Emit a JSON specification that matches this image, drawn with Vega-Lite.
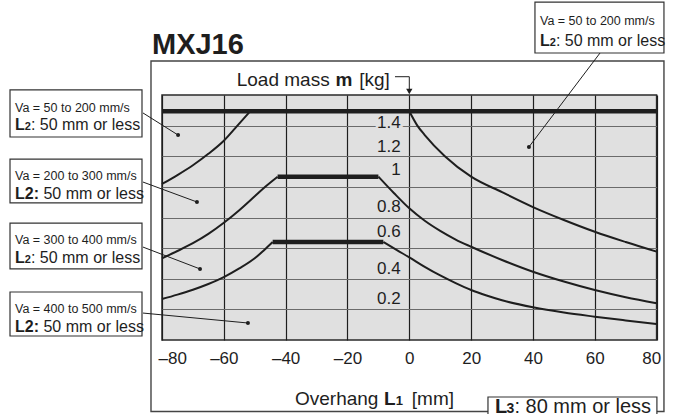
{
  "$schema": "https://vega.github.io/schema/vega-lite/v6.json",
  "width": 494.6,
  "height": 245,
  "autosize": "none",
  "padding": {"left": 162, "top": 95, "right": 17.4, "bottom": 74},
  "background": "white",
  "resolve": {"axis": {"x": "independent", "y": "independent"}},
  "config": {
    "font": "Liberation Sans",
    "view": {"fill": "#e0e0e0", "stroke": "#2a2a2a", "strokeWidth": 1.5},
    "text": {"color": "#1e1e1e", "align": "left", "baseline": "alphabetic"}
  },
  "datasets": {
    "curves": [
      {"part": "A-left", "x": -80, "y": 0.955}, {"part": "A-left", "x": -75, "y": 1.01}, {"part": "A-left", "x": -70, "y": 1.07},
      {"part": "A-left", "x": -65, "y": 1.14}, {"part": "A-left", "x": -60, "y": 1.22}, {"part": "A-left", "x": -55.6, "y": 1.3125},
      {"part": "A-left", "x": -51.5, "y": 1.4},
      {"part": "A-right", "x": 0, "y": 1.4}, {"part": "A-right", "x": 2.6, "y": 1.3125}, {"part": "A-right", "x": 5, "y": 1.255},
      {"part": "A-right", "x": 11.5, "y": 1.125}, {"part": "A-right", "x": 20, "y": 1.0}, {"part": "A-right", "x": 30, "y": 0.905},
      {"part": "A-right", "x": 40, "y": 0.814}, {"part": "A-right", "x": 50, "y": 0.735}, {"part": "A-right", "x": 60, "y": 0.663},
      {"part": "A-right", "x": 70, "y": 0.6}, {"part": "A-right", "x": 80, "y": 0.541},
      {"part": "B-left", "x": -80, "y": 0.5}, {"part": "B-left", "x": -75, "y": 0.545}, {"part": "B-left", "x": -70, "y": 0.593},
      {"part": "B-left", "x": -65, "y": 0.65}, {"part": "B-left", "x": -60, "y": 0.718}, {"part": "B-left", "x": -55, "y": 0.795},
      {"part": "B-left", "x": -50, "y": 0.88}, {"part": "B-left", "x": -46.5, "y": 0.94}, {"part": "B-left", "x": -42.6, "y": 1.0},
      {"part": "B-right", "x": -10, "y": 1.0}, {"part": "B-right", "x": -5, "y": 0.9}, {"part": "B-right", "x": 0, "y": 0.806},
      {"part": "B-right", "x": 5, "y": 0.73}, {"part": "B-right", "x": 10, "y": 0.668}, {"part": "B-right", "x": 15, "y": 0.615},
      {"part": "B-right", "x": 20, "y": 0.571}, {"part": "B-right", "x": 30, "y": 0.49}, {"part": "B-right", "x": 40, "y": 0.418},
      {"part": "B-right", "x": 50, "y": 0.358}, {"part": "B-right", "x": 60, "y": 0.306}, {"part": "B-right", "x": 70, "y": 0.262},
      {"part": "B-right", "x": 80, "y": 0.225},
      {"part": "C-left", "x": -80, "y": 0.251}, {"part": "C-left", "x": -75, "y": 0.278}, {"part": "C-left", "x": -70, "y": 0.308},
      {"part": "C-left", "x": -65, "y": 0.343}, {"part": "C-left", "x": -60, "y": 0.385}, {"part": "C-left", "x": -55, "y": 0.438},
      {"part": "C-left", "x": -50, "y": 0.5}, {"part": "C-left", "x": -47, "y": 0.55}, {"part": "C-left", "x": -44.2, "y": 0.6},
      {"part": "C-right", "x": -8.4, "y": 0.6}, {"part": "C-right", "x": -4, "y": 0.55}, {"part": "C-right", "x": 0, "y": 0.506},
      {"part": "C-right", "x": 5, "y": 0.448}, {"part": "C-right", "x": 10, "y": 0.395}, {"part": "C-right", "x": 15, "y": 0.348},
      {"part": "C-right", "x": 20, "y": 0.306}, {"part": "C-right", "x": 25, "y": 0.272}, {"part": "C-right", "x": 30, "y": 0.243},
      {"part": "C-right", "x": 40, "y": 0.2}, {"part": "C-right", "x": 50, "y": 0.168}, {"part": "C-right", "x": 60, "y": 0.143},
      {"part": "C-right", "x": 70, "y": 0.12}, {"part": "C-right", "x": 80, "y": 0.098}
    ],
    "limits": [
      {"part": "A", "x": -80, "y": 1.4}, {"part": "A", "x": 80, "y": 1.4},
      {"part": "B", "x": -42.6, "y": 1.0}, {"part": "B", "x": -10, "y": 1.0},
      {"part": "C", "x": -44.2, "y": 0.6}, {"part": "C", "x": -8.4, "y": 0.6}
    ],
    "frame": [{"x1": -83.56, "x2": 82.38, "y1": 1.708, "y2": -0.4378}],
    "boxes": [
      {"x1": -129.17, "x2": -86.47, "y1": 1.531, "y2": 1.243},
      {"x1": -129.17, "x2": -86.47, "y1": 1.108, "y2": 0.839},
      {"x1": -129.17, "x2": -86.47, "y1": 0.716, "y2": 0.435},
      {"x1": -129.17, "x2": -86.47, "y1": 0.294, "y2": 0.0245},
      {"x1": 40.65, "x2": 82.38, "y1": 2.069, "y2": 1.757},
      {"x1": 25.45, "x2": 80.1, "y1": -0.349, "y2": -0.49}
    ],
    "leaders": [
      {"x": -86.15, "y": 1.39, "x2": -74.8, "y2": 1.255},
      {"x": -86.15, "y": 0.967, "x2": -68.7, "y2": 0.845},
      {"x": -86.15, "y": 0.569, "x2": -67.7, "y2": 0.435},
      {"x": -86.15, "y": 0.165, "x2": -52.2, "y2": 0.104},
      {"x": 61.7, "y": 1.757, "x2": 38.7, "y2": 1.182},
      {"x": -4.63, "y": 1.612, "x2": 0, "y2": 1.612},
      {"x": 0, "y": 1.612, "x2": 0, "y2": 1.515}
    ],
    "dots": [
      {"x": -74.8, "y": 1.255}, {"x": -68.7, "y": 0.845}, {"x": -67.7, "y": 0.435},
      {"x": -52.2, "y": 0.104}, {"x": 38.7, "y": 1.182}
    ],
    "arrow": [{"x": 0, "y": 1.522}],
    "ticks": [
      {"t": "1.4", "x": -2.8, "y": 1.329}, {"t": "1.2", "x": -2.8, "y": 1.184}, {"t": "1", "x": -2.8, "y": 1.041},
      {"t": "0.8", "x": -2.8, "y": 0.814}, {"t": "0.6", "x": -2.8, "y": 0.661}, {"t": "0.4", "x": -2.8, "y": 0.435},
      {"t": "0.2", "x": -2.8, "y": 0.251}
    ],
    "texts": [
      {"t": "MXJ16", "x": -83.24, "y": 1.751, "role": "heading"},
      {"t": "Load mass", "x": -55.84, "y": 1.555, "role": "title"},
      {"t": "m", "x": -23.9, "y": 1.555, "role": "titleB"},
      {"t": "[kg]", "x": -16.2, "y": 1.555, "role": "title"},
      {"t": "Overhang", "x": -36.98, "y": -0.398, "role": "title"},
      {"t": "L", "x": -8.19, "y": -0.398, "role": "titleB"},
      {"t": "1", "x": -4.37, "y": -0.398, "role": "titleSub"},
      {"t": "[mm]", "x": 0.8, "y": -0.398, "role": "title"},
      {"t": "L", "x": 27.71, "y": -0.445, "role": "l3B"},
      {"t": "3", "x": 31.47, "y": -0.445, "role": "l3Sub"},
      {"t": ": 80 mm or less", "x": 34.0, "y": -0.445, "role": "l3"},
      {"t": "Va = 50 to 200 mm/s", "x": -127.55, "y": 1.398, "role": "va"},
      {"t": "L", "x": -127.55, "y": 1.286, "role": "noteB"},
      {"t": "2", "x": -124.38, "y": 1.286, "role": "noteSub"},
      {"t": ": 50 mm or less", "x": -122.41, "y": 1.286, "role": "note"},
      {"t": "Va = 200 to 300 mm/s", "x": -127.55, "y": 0.98, "role": "va"},
      {"t": "L2:", "x": -127.55, "y": 0.863, "role": "noteB"},
      {"t": "50 mm or less", "x": -118.36, "y": 0.863, "role": "note"},
      {"t": "Va = 300 to 400 mm/s", "x": -127.55, "y": 0.588, "role": "va"},
      {"t": "L", "x": -127.55, "y": 0.471, "role": "noteB"},
      {"t": "2", "x": -124.38, "y": 0.471, "role": "noteSub"},
      {"t": ": 50 mm or less", "x": -122.41, "y": 0.471, "role": "note"},
      {"t": "Va = 400 to 500 mm/s", "x": -127.55, "y": 0.165, "role": "va"},
      {"t": "L2:", "x": -127.55, "y": 0.049, "role": "noteB"},
      {"t": "50 mm or less", "x": -118.36, "y": 0.049, "role": "note"},
      {"t": "Va = 50 to 200 mm/s", "x": 42.28, "y": 1.929, "role": "va"},
      {"t": "L", "x": 42.28, "y": 1.802, "role": "noteB"},
      {"t": "2", "x": 45.45, "y": 1.802, "role": "noteSub"},
      {"t": ": 50 mm or less", "x": 47.42, "y": 1.802, "role": "note"}
    ]
  },
  "layer": [
    {
      "data": {"name": "frame"},
      "mark": {"type": "rect", "fill": "white", "fillOpacity": 0, "stroke": "#444", "strokeWidth": 1.4},
      "encoding": {
        "x": {
          "field": "x1", "type": "quantitative",
          "scale": {"domain": [-80, 80], "nice": false, "zero": false},
          "axis": {
            "values": [-80, -60, -40, -20, 0, 20, 40, 60, 80],
            "grid": true, "gridColor": "#1e1e1e", "gridWidth": 1.2,
            "ticks": false, "domain": false, "title": null,
            "labelFontSize": 17, "labelColor": "#1e1e1e", "labelPadding": 10,
            "labelFlush": true, "labelFlushOffset": 4,
            "labelExpr": "datum.value < 0 ? '–' + abs(datum.value) : '' + datum.value"
          }
        },
        "x2": {"field": "x2"},
        "y": {
          "field": "y1", "type": "quantitative",
          "scale": {"domain": [0, 1.5], "nice": false, "zero": false},
          "axis": {
            "values": [0.1875, 0.375, 0.5625, 0.75, 0.9375, 1.125, 1.3125],
            "grid": true, "gridColor": "#6b6b6b", "gridWidth": 1,
            "ticks": false, "domain": false, "labels": false, "title": null
          }
        },
        "y2": {"field": "y2"}
      }
    },
    {
      "data": {"name": "boxes"},
      "mark": {"type": "rect", "fill": "white", "stroke": "#333", "strokeWidth": 1.2},
      "encoding": {
        "x": {"field": "x1", "type": "quantitative", "axis": null},
        "x2": {"field": "x2"},
        "y": {"field": "y1", "type": "quantitative", "axis": null},
        "y2": {"field": "y2"}
      }
    },
    {
      "data": {"name": "ticks"},
      "mark": {"type": "text", "align": "right", "baseline": "middle", "fontSize": 17, "fill": "#e0e0e0", "stroke": "#e0e0e0", "strokeWidth": 5},
      "encoding": {
        "x": {"field": "x", "type": "quantitative", "axis": null},
        "y": {"field": "y", "type": "quantitative", "axis": null},
        "text": {"field": "t"}
      }
    },
    {
      "data": {"name": "curves"},
      "mark": {"type": "line", "interpolate": "monotone", "stroke": "#1e1e1e", "strokeWidth": 2},
      "encoding": {
        "x": {"field": "x", "type": "quantitative", "axis": null},
        "y": {"field": "y", "type": "quantitative", "axis": null},
        "detail": {"field": "part", "type": "nominal"}
      }
    },
    {
      "data": {"name": "limits"},
      "mark": {"type": "line", "stroke": "#1e1e1e", "strokeWidth": 4.5},
      "encoding": {
        "x": {"field": "x", "type": "quantitative", "axis": null},
        "y": {"field": "y", "type": "quantitative", "axis": null},
        "detail": {"field": "part", "type": "nominal"}
      }
    },
    {
      "data": {"name": "leaders"},
      "mark": {"type": "rule", "stroke": "#1e1e1e", "strokeWidth": 1},
      "encoding": {
        "x": {"field": "x", "type": "quantitative", "axis": null},
        "y": {"field": "y", "type": "quantitative", "axis": null},
        "x2": {"field": "x2"},
        "y2": {"field": "y2"}
      }
    },
    {
      "data": {"name": "dots"},
      "mark": {"type": "point", "filled": true, "color": "#1e1e1e", "size": 16, "opacity": 1},
      "encoding": {
        "x": {"field": "x", "type": "quantitative", "axis": null},
        "y": {"field": "y", "type": "quantitative", "axis": null}
      }
    },
    {
      "data": {"name": "arrow"},
      "mark": {"type": "point", "shape": "triangle-down", "filled": true, "color": "#1e1e1e", "size": 40, "opacity": 1},
      "encoding": {
        "x": {"field": "x", "type": "quantitative", "axis": null},
        "y": {"field": "y", "type": "quantitative", "axis": null}
      }
    },
    {
      "data": {"name": "ticks"},
      "mark": {"type": "text", "align": "right", "baseline": "middle", "fontSize": 17},
      "encoding": {
        "x": {"field": "x", "type": "quantitative", "axis": null},
        "y": {"field": "y", "type": "quantitative", "axis": null},
        "text": {"field": "t"}
      }
    },
    {
      "data": {"name": "texts"},
      "transform": [{"filter": {"field": "role", "equal": "heading"}}],
      "mark": {"type": "text", "fontSize": 29, "fontWeight": "bold"},
      "encoding": {
        "x": {"field": "x", "type": "quantitative", "axis": null},
        "y": {"field": "y", "type": "quantitative", "axis": null},
        "text": {"field": "t"}
      }
    },
    {
      "data": {"name": "texts"},
      "transform": [{"filter": {"field": "role", "equal": "title"}}],
      "mark": {"type": "text", "fontSize": 19},
      "encoding": {
        "x": {"field": "x", "type": "quantitative", "axis": null},
        "y": {"field": "y", "type": "quantitative", "axis": null},
        "text": {"field": "t"}
      }
    },
    {
      "data": {"name": "texts"},
      "transform": [{"filter": {"field": "role", "equal": "titleB"}}],
      "mark": {"type": "text", "fontSize": 19, "fontWeight": "bold"},
      "encoding": {
        "x": {"field": "x", "type": "quantitative", "axis": null},
        "y": {"field": "y", "type": "quantitative", "axis": null},
        "text": {"field": "t"}
      }
    },
    {
      "data": {"name": "texts"},
      "transform": [{"filter": {"field": "role", "equal": "titleSub"}}],
      "mark": {"type": "text", "fontSize": 13, "fontWeight": "bold"},
      "encoding": {
        "x": {"field": "x", "type": "quantitative", "axis": null},
        "y": {"field": "y", "type": "quantitative", "axis": null},
        "text": {"field": "t"}
      }
    },
    {
      "data": {"name": "texts"},
      "transform": [{"filter": {"field": "role", "equal": "l3"}}],
      "mark": {"type": "text", "fontSize": 20},
      "encoding": {
        "x": {"field": "x", "type": "quantitative", "axis": null},
        "y": {"field": "y", "type": "quantitative", "axis": null},
        "text": {"field": "t"}
      }
    },
    {
      "data": {"name": "texts"},
      "transform": [{"filter": {"field": "role", "equal": "l3B"}}],
      "mark": {"type": "text", "fontSize": 20, "fontWeight": "bold"},
      "encoding": {
        "x": {"field": "x", "type": "quantitative", "axis": null},
        "y": {"field": "y", "type": "quantitative", "axis": null},
        "text": {"field": "t"}
      }
    },
    {
      "data": {"name": "texts"},
      "transform": [{"filter": {"field": "role", "equal": "l3Sub"}}],
      "mark": {"type": "text", "fontSize": 14, "fontWeight": "bold"},
      "encoding": {
        "x": {"field": "x", "type": "quantitative", "axis": null},
        "y": {"field": "y", "type": "quantitative", "axis": null},
        "text": {"field": "t"}
      }
    },
    {
      "data": {"name": "texts"},
      "transform": [{"filter": {"field": "role", "equal": "va"}}],
      "mark": {"type": "text", "fontSize": 12.5},
      "encoding": {
        "x": {"field": "x", "type": "quantitative", "axis": null},
        "y": {"field": "y", "type": "quantitative", "axis": null},
        "text": {"field": "t"}
      }
    },
    {
      "data": {"name": "texts"},
      "transform": [{"filter": {"field": "role", "equal": "note"}}],
      "mark": {"type": "text", "fontSize": 16},
      "encoding": {
        "x": {"field": "x", "type": "quantitative", "axis": null},
        "y": {"field": "y", "type": "quantitative", "axis": null},
        "text": {"field": "t"}
      }
    },
    {
      "data": {"name": "texts"},
      "transform": [{"filter": {"field": "role", "equal": "noteB"}}],
      "mark": {"type": "text", "fontSize": 16, "fontWeight": "bold"},
      "encoding": {
        "x": {"field": "x", "type": "quantitative", "axis": null},
        "y": {"field": "y", "type": "quantitative", "axis": null},
        "text": {"field": "t"}
      }
    },
    {
      "data": {"name": "texts"},
      "transform": [{"filter": {"field": "role", "equal": "noteSub"}}],
      "mark": {"type": "text", "fontSize": 11, "fontWeight": "bold"},
      "encoding": {
        "x": {"field": "x", "type": "quantitative", "axis": null},
        "y": {"field": "y", "type": "quantitative", "axis": null},
        "text": {"field": "t"}
      }
    }
  ]
}
